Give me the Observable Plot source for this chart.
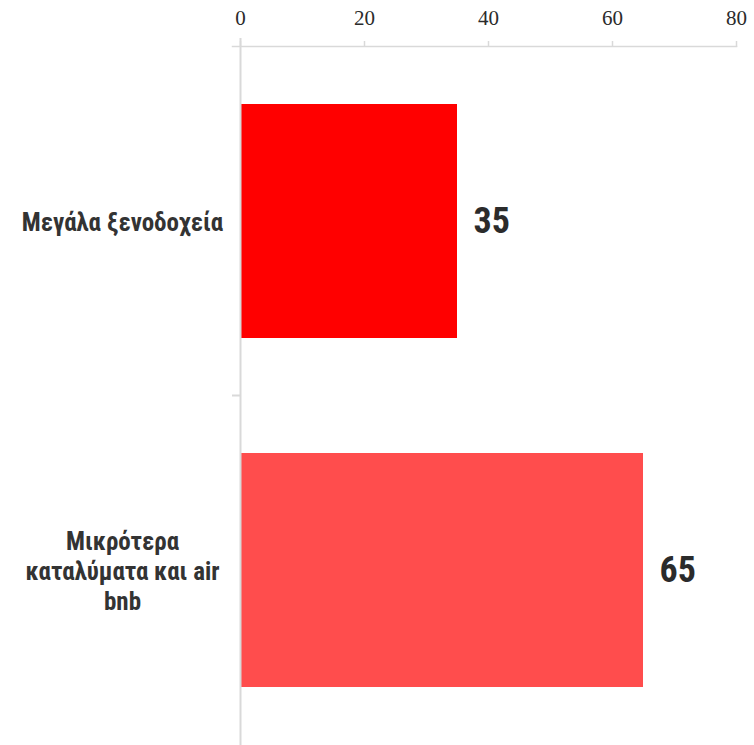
<!DOCTYPE html>
<html>
<head>
<meta charset="utf-8">
<script src="https://cdn.jsdelivr.net/npm/d3@7"></script>
<script src="https://cdn.jsdelivr.net/npm/@observablehq/plot@0.6"></script>
<style>
  html, body { margin: 0; padding: 0; background: #ffffff; }
</style>
</head>
<body>
<div id="chart"></div>
<script>
const categories = ["Μεγάλα ξενοδοχεία", "Μικρότερα\nκαταλύματα και air\nbnb"];
const values = [35, 65];
const barColors = ["#ff0000", "#ff4d4d"];
const xTicks = [0, 20, 40, 60, 80];

const data = categories.map((c, i) => ({category: c, value: values[i]}));

const axisGray = "#d9d9d9";
const textColor = "#2b2b2b";
const sansNarrow = "'Liberation Sans Narrow', 'Arial Narrow', 'Roboto Condensed', 'DejaVu Sans Condensed', 'Liberation Sans', sans-serif";

const chart = Plot.plot({
  width: 754,
  height: 745,
  marginTop: 46,
  marginBottom: 0,
  marginLeft: 240,
  marginRight: 18,
  style: {background: "#ffffff", fontFamily: sansNarrow, overflow: "visible"},
  x: {domain: [0, 80], axis: null, label: null},
  y: {domain: categories, paddingInner: 0.33, paddingOuter: 0.165, axis: null, label: null},
  color: {domain: categories, range: barColors},
  marks: [
    Plot.barX(data, {x: "value", y: "category", fill: "category"}),
    Plot.frame({anchor: "top", stroke: axisGray, strokeWidth: 1.5, insetLeft: -8}),
    Plot.axisX({anchor: "top", ticks: xTicks, tickSize: 6, tickFormat: () => "", label: null, stroke: axisGray, strokeWidth: 1.5}),
    Plot.axisX({anchor: "top", ticks: xTicks, tickSize: 0, tickPadding: 22, label: null, fontSize: 21,
      fontFamily: "'Liberation Serif', 'DejaVu Serif', serif", fill: textColor}),
    Plot.ruleX([0], {stroke: axisGray, strokeWidth: 2, insetTop: -8}),
    Plot.ruleY([categories[1]], {x1: 0, x2: 0, insetLeft: -8, dy: -175, stroke: axisGray, strokeWidth: 2}),
    Plot.text(data, {y: "category", text: "category", frameAnchor: "left", dx: -118, textAnchor: "middle",
      fontSize: 25, fontWeight: "bold", lineHeight: 1.2, fill: "#333333"}),
    Plot.text(data, {x: "value", y: "category", text: d => String(d.value), textAnchor: "start", dx: 16,
      fontSize: 36, fontWeight: "bold", fill: textColor})
  ]
});
document.getElementById("chart").appendChild(chart);
</script>
</body>
</html>
